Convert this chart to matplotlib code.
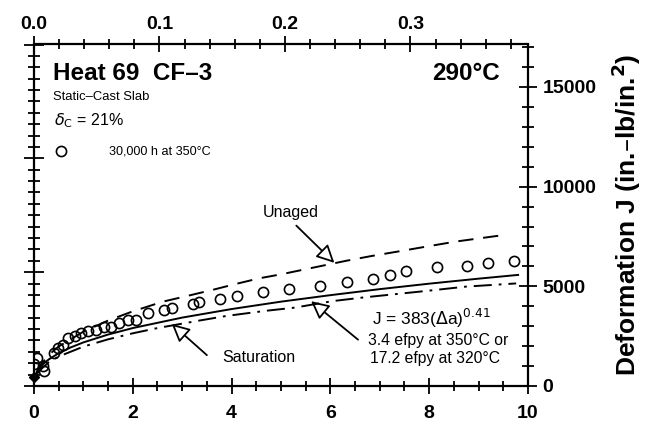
import matplotlib
matplotlib.use("Agg")
import numpy as np
import matplotlib.pyplot as plt
from matplotlib.ticker import MultipleLocator, NullFormatter, FixedLocator
from matplotlib.patches import FancyArrowPatch

plt.rcParams["font.family"] = ["Liberation Sans", "DejaVu Sans"]
plt.rcParams["lines.scale_dashes"] = False

# Crack extension (mm) and J (kJ/m^2) for the aged material, 30,000 h at 350 C
aged_da = [0.00, 0.07, 0.18, 0.21, 0.41, 0.48, 0.58, 0.68, 0.82, 0.95, 1.09,
           1.26, 1.42, 1.56, 1.73, 1.90, 2.06, 2.30, 2.63, 2.80, 3.21, 3.35,
           3.77, 4.11, 4.64, 5.17, 5.78, 6.33, 6.86, 7.21, 7.53, 8.16, 8.76,
           9.20, 9.72]
aged_j = [190, 248, 175, 131, 289, 333, 363, 420, 435, 464, 479,
          493, 522, 522, 551, 580, 580, 641, 667, 681, 722, 736,
          762, 788, 823, 855, 880, 913, 939, 977, 1007, 1044, 1054,
          1080, 1094]

# Fitted J-R curve for the saturation condition: J = 383(da)^0.41
fit_da = [0.05, 0.1, 0.2, 0.3, 0.5, 0.75, 1.0, 1.5, 2.0, 3.0, 4.0, 5.0, 6.0,
          7.0, 8.0, 9.0, 9.8]
fit_j = [112, 149, 198, 234, 288, 340, 383, 452, 509, 601, 676, 741, 798,
         851, 899, 943, 976]

# Unaged material
unaged_da = [0.05, 0.1, 0.3, 0.5, 1.0, 1.5, 2.0, 2.61, 3.14, 3.62, 4.09,
             4.56, 5.0, 5.51, 6.32, 6.82, 7.39, 8.0, 8.54, 9.42]
unaged_j = [120, 165, 274, 347, 477, 575, 656, 741, 795, 845, 897,
            946, 981, 1027, 1100, 1141, 1183, 1229, 1269, 1321]

# Saturation (lower bound)
sat_da = [0.05, 0.1, 0.3, 0.5, 1.0, 1.5, 2.0, 2.5, 3.35, 3.89, 4.70, 5.27,
          6.05, 6.65, 7.94, 8.74, 9.76]
sat_j = [98, 131, 209, 259, 346, 410, 463, 509, 575, 615, 661, 688,
         746, 777, 835, 873, 901]

origin_da = [0.0]
origin_j = [80]

top_ticks_in = [0.0, 0.1, 0.2, 0.3]
right_ticks_inlb = [0, 5000, 10000, 15000]

KJ_PER_INLB = 0.175127
MM_PER_IN = 25.4

W, H = 646, 437
fig = plt.figure(figsize=(W / 100, H / 100), dpi=100)
ax = fig.add_axes([34 / W, 1 - 386 / H, 494 / W, 341.5 / H])

lw_axis = 1.6
ax.set_xlim(0, 10)
ax.set_ylim(0, 3000)
for side in ["left", "bottom", "top", "right"]:
    ax.spines[side].set_linewidth(lw_axis)
ax.spines["top"].set_visible(False)
ax.spines["right"].set_visible(False)

ax.plot(unaged_da, unaged_j, color="black", lw=1.4, ls=(0, (11, 7)))
ax.plot(fit_da, fit_j, color="black", lw=1.4, ls="-")
ax.plot(sat_da, sat_j, color="black", lw=1.4, ls=(0, (13, 5, 2, 5)))
sc, = ax.plot(aged_da, aged_j, ls="none", marker="o", ms=7.3, mfc="none",
              mec="black", mew=1.2, label="30,000 h at 350°C")
ax.plot(origin_da, origin_j, ls="none", marker="D", ms=5, color="black",
        clip_on=False)

ax.xaxis.set_major_locator(MultipleLocator(2))
ax.xaxis.set_minor_locator(MultipleLocator(0.5))
ax.yaxis.set_major_locator(MultipleLocator(1000))
ax.yaxis.set_minor_locator(MultipleLocator(100))
ax.yaxis.set_major_formatter(NullFormatter())
ax.tick_params(axis="x", which="major", direction="inout", length=12, width=1.3,
               pad=8, labelsize=14)
ax.tick_params(axis="x", which="minor", direction="inout", length=7, width=1.3)
ax.tick_params(axis="y", which="major", direction="inout", length=14, width=1.3)
ax.tick_params(axis="y", which="minor", direction="inout", length=8, width=1.3)
for lab in ax.get_xticklabels():
    lab.set_fontweight("bold")

# Top axis: crack extension in inches
top = ax.secondary_xaxis("top", functions=(lambda x: x / MM_PER_IN,
                                            lambda x: x * MM_PER_IN))
top.spines["top"].set_linewidth(lw_axis)
top.xaxis.set_major_locator(FixedLocator(top_ticks_in))
top.xaxis.set_minor_locator(FixedLocator(np.arange(0.02, 0.39, 0.02)))
top.xaxis.set_major_formatter(plt.FuncFormatter(lambda v, p: f"{v:.1f}"))
top.tick_params(which="major", direction="inout", length=12, width=1.3, pad=2,
                labelsize=14)
top.tick_params(which="minor", direction="inout", length=7, width=1.3)
for lab in top.get_xticklabels():
    lab.set_fontweight("bold")

# Right axis: J in in.-lb/in.^2
right = ax.secondary_yaxis("right", functions=(lambda j: j / KJ_PER_INLB,
                                               lambda j: j * KJ_PER_INLB))
right.spines["right"].set_linewidth(lw_axis)
right.yaxis.set_major_locator(FixedLocator(right_ticks_inlb))
right.yaxis.set_minor_locator(FixedLocator(np.arange(1000, 17001, 1000)))
right.tick_params(which="major", direction="inout", length=13, width=1.3, pad=4,
                  labelsize=14)
right.tick_params(which="minor", direction="inout", length=8, width=1.3)
for lab in right.get_yticklabels():
    lab.set_fontweight("bold")
right.set_ylabel("Deformation J (in.–lb/in.$^\\mathbf{2}$)", fontsize=19,
                 fontweight="bold", labelpad=9)


def fx(px):
    return px / W


def fy(py):
    return 1 - py / H


fig.text(fx(53), fy(74), "Heat 69  CF–3", fontsize=17.5, fontweight="bold",
         ha="left", va="center")
fig.text(fx(500), fy(74), "290°C", fontsize=17.5, fontweight="bold",
         ha="right", va="center")
fig.text(fx(53), fy(97), "Static–Cast Slab", fontsize=9.4, ha="left",
         va="center")
fig.text(fx(54), fy(121), r"$\delta_\mathsf{C}$ = 21%", fontsize=11.5,
         ha="left", va="center")
ax.legend(handles=[sc], loc="center left",
          bbox_to_anchor=(fx(55), fy(152)), bbox_transform=fig.transFigure,
          frameon=False, borderpad=0, borderaxespad=0, handlelength=1.0,
          handletextpad=3.3, prop={"size": 9.1})

fig.text(fx(291), fy(212), "Unaged", fontsize=11.5, ha="center", va="center")
fig.text(fx(259), fy(358), "Saturation", fontsize=11.5, ha="center",
         va="center")
fig.text(fx(372), fy(318), r"J = 383($\Delta$a)$^{0.41}$", fontsize=12.5,
         ha="left", va="center")
fig.text(fx(368), fy(340), "3.4 efpy at 350°C or", fontsize=11.3,
         ha="left", va="center")
fig.text(fx(370), fy(359), "17.2 efpy at 320°C", fontsize=11.3,
         ha="left", va="center")

arrow_kw = dict(arrowstyle="-|>,head_length=0.9,head_width=0.45",
                mutation_scale=12, lw=1.3, fc="white", ec="black",
                shrinkA=0, shrinkB=0)
for tail, tip in [((5.31, 1409), (6.08, 1082)),
                  ((3.50, 271), (2.79, 545)),
                  ((6.56, 407), (5.61, 745))]:
    ax.add_patch(FancyArrowPatch(tail, tip, **arrow_kw))

fig.savefig("out.png", dpi=100)
